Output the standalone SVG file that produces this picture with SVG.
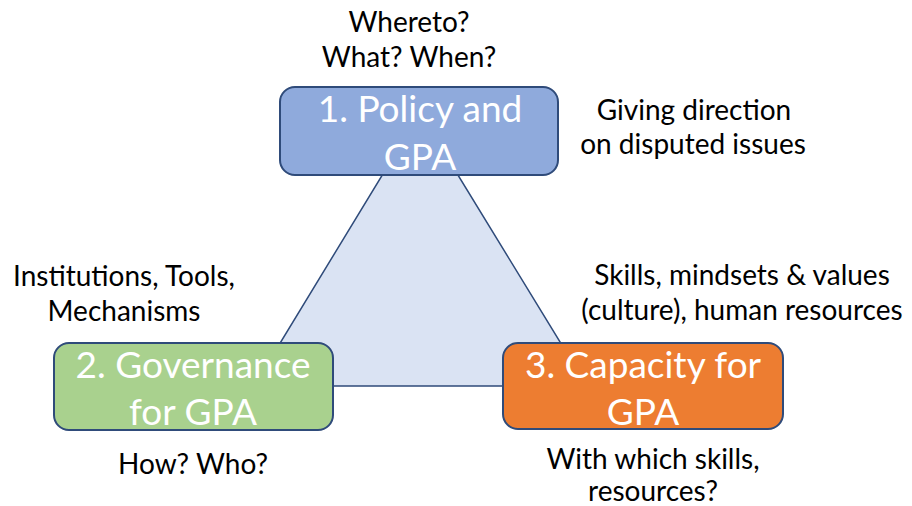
<svg xmlns="http://www.w3.org/2000/svg" width="912" height="506" viewBox="0 0 912 506">
  <style>
    .box { stroke: #2f4b7a; stroke-width: 2; }
    .btxt { font-family: Lato, "Open Sans", "Liberation Sans", sans-serif; font-size: 37px; fill: #ffffff; text-anchor: middle; }
    .lbl { font-family: Lato, "Open Sans", "Liberation Sans", sans-serif; font-size: 28px; fill: #000000; text-anchor: middle; }
  </style>
  <rect width="912" height="506" fill="#ffffff"/>
  <g id="connectors">
    <polygon points="420,113 587,386 254,386" fill="#dae3f3" stroke="#2f4b7a" stroke-width="1.5" stroke-linejoin="miter"/>
  </g>
  <g id="node-policy">
    <rect class="box" x="280" y="87" width="278" height="88" rx="15" fill="#8faadc"/>
    <text class="btxt" x="420" y="122">1. Policy and</text>
    <text class="btxt" x="420" y="170">GPA</text>
  </g>
  <g id="node-governance">
    <rect class="box" x="54" y="343" width="279" height="87" rx="15" fill="#a9d18e"/>
    <text class="btxt" x="193" y="378">2. Governance</text>
    <text class="btxt" x="193" y="425">for GPA</text>
  </g>
  <g id="node-capacity">
    <rect class="box" x="503" y="343" width="280" height="86" rx="15" fill="#ed7d31"/>
    <text class="btxt" x="643" y="378">3. Capacity for</text>
    <text class="btxt" x="643" y="425">GPA</text>
  </g>
  <g id="labels">
    <text class="lbl" x="409" y="32">Whereto?</text>
    <text class="lbl" x="409" y="67">What? When?</text>
    <text class="lbl" x="694" y="120">Giving direction</text>
    <text class="lbl" x="693" y="154">on disputed issues</text>
    <text class="lbl" x="124" y="286">Institutions, Tools,</text>
    <text class="lbl" x="124" y="321">Mechanisms</text>
    <text class="lbl" x="742" y="285">Skills, mindsets &amp; values</text>
    <text class="lbl" x="742" y="320">(culture), human resources</text>
    <text class="lbl" x="193" y="474">How? Who?</text>
    <text class="lbl" x="653" y="469">With which skills,</text>
    <text class="lbl" x="653" y="501">resources?</text>
  </g>
</svg>
